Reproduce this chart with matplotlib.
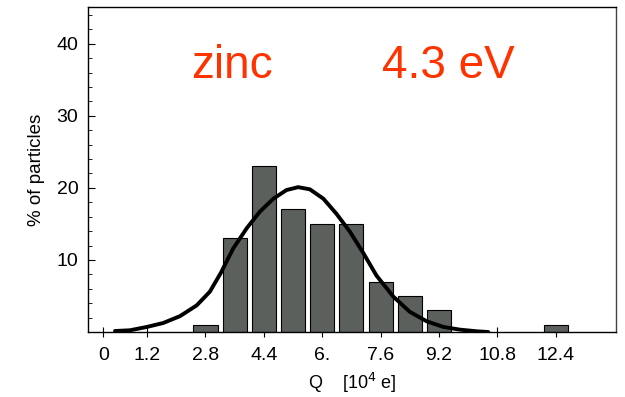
import numpy as np
import matplotlib.pyplot as plt

plt.rcParams['font.family'] = ['Liberation Sans', 'DejaVu Sans']

# histogram bars (charge in 1e4 e, % of particles)
bar_q = [2.8, 3.6, 4.4, 5.2, 6.0, 6.8, 7.6, 8.4, 9.2, 12.4]
bar_pct = [1, 13, 23, 17, 15, 15, 7, 5, 3, 1]

# fitted curve
fit_q = [0.32, 0.73, 1.19, 1.64, 2.1, 2.56, 2.92, 3.22, 3.56, 3.93, 4.29, 4.66,
         5.02, 5.34, 5.66, 6.03, 6.39, 6.76, 7.12, 7.49, 7.95, 8.4, 8.86, 9.32,
         9.77, 10.23, 10.55]
fit_pct = [0.14, 0.24, 0.7, 1.25, 2.2, 3.7, 5.6, 8.2, 11.6, 14.4, 16.7, 18.5,
           19.7, 20.1, 19.8, 18.5, 16.4, 13.9, 11.0, 7.8, 4.9, 2.8, 1.49, 0.7,
           0.33, 0.1, 0.0]

xticks = [0, 1.2, 2.8, 4.4, 6.0, 7.6, 9.2, 10.8, 12.4]
xtick_labels = ['0', '1.2', '2.8', '4.4', '6.', '7.6', '9.2', '10.8', '12.4']
yticks = [10, 20, 30, 40]

fig = plt.figure(figsize=(6.25, 3.97), dpi=100)
ax = fig.add_axes([0.1408, 0.1637, 0.8448, 0.8187])

ax.bar(bar_q, bar_pct, width=0.66, color='#5c605c', edgecolor='black', linewidth=0.8, zorder=2)
ax.plot(fit_q, fit_pct, color='black', linewidth=2.8, solid_capstyle='round',
        solid_joinstyle='round', zorder=3)

ax.set_xlim(-0.42, 14.05)
ax.set_ylim(0, 45.1)
ax.set_xticks(xticks)
ax.set_xticklabels(xtick_labels)
ax.set_yticks(yticks)
ax.set_yticks(np.arange(2, 45, 2), minor=True)
ax.tick_params(axis='x', direction='inout', length=7, width=0.8, labelsize=14, pad=7)
ax.tick_params(axis='y', which='major', direction='in', length=5, width=0.8, labelsize=14, pad=7)
ax.tick_params(axis='y', which='minor', direction='in', length=3, width=0.6)

for s in ax.spines.values():
    s.set_linewidth(1.0)
ax.spines['right'].set_color('#444444')

ax.set_ylabel('% of particles', fontsize=13.5, labelpad=8)
ax.set_xlabel('Q    [10$^{4}$ e]', fontsize=13, labelpad=5)

ax.text(2.4, 35.2, 'zinc', color='#ff3300', fontsize=33)
ax.text(7.65, 35.2, '4.3 eV', color='#ff3300', fontsize=33)

plt.savefig('out.png', dpi=100)
